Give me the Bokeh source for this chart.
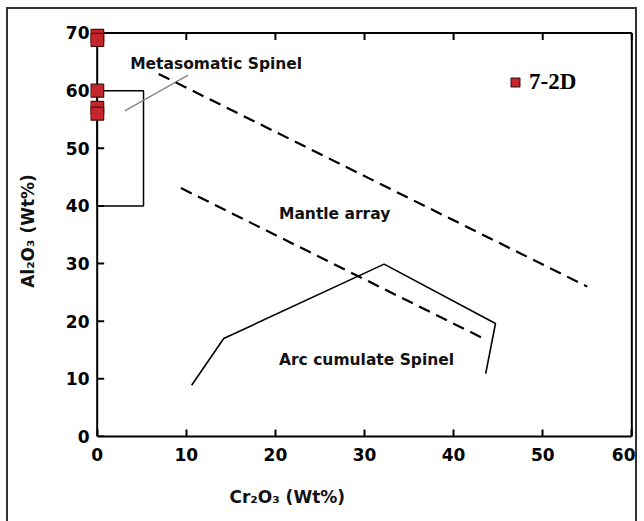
import math
from bokeh.plotting import figure
from bokeh.models import Range1d, FixedTicker, Legend, LegendItem, Label, Title
from bokeh.embed import file_html
from bokeh.resources import INLINE

# Sample 7-2D spinel analyses
sample_cr2o3 = [0.0, 0.0, 0.0, 0.0, 0.0]
sample_al2o3 = [69.5, 68.8, 60.0, 57.0, 56.0]

# Metasomatic spinel field (rectangle)
meta_x = [0.0, 5.2, 5.2, 0.0, 0.0]
meta_y = [60.0, 60.0, 40.0, 40.0, 60.0]

# Pointer line to the metasomatic label
pointer_x = [3.1, 10.2]
pointer_y = [56.5, 62.7]

# Mantle array boundaries (dashed)
mantle_upper_x = [6.9, 55.0]
mantle_upper_y = [62.9, 26.0]
mantle_lower_x = [9.4, 43.1]
mantle_lower_y = [43.1, 17.2]

# Arc cumulate spinel field (solid polyline)
arc_x = [10.6, 14.2, 32.2, 44.7, 43.6]
arc_y = [8.9, 17.0, 29.9, 19.6, 10.9]

x_ticks = [0, 10, 20, 30, 40, 50, 60]
y_ticks = [0, 10, 20, 30, 40, 50, 60, 70]
X_MAX, Y_MAX = 60, 70

FONT = "DejaVu Sans"

p = figure(width=631, height=518, output_backend="svg", toolbar_location=None,
           x_range=Range1d(-0.75, 60.3), y_range=Range1d(0, 71.3),
           min_border_left=82, min_border_right=5, min_border_top=16, min_border_bottom=91,
           y_axis_label="Al\u2082O\u2083 (Wt%)")
p.margin = (7, 0, 0, 6)
p.styles = {"border": "2px solid #333333"}
p.grid.visible = False
p.outline_line_color = None
p.background_fill_color = "white"
p.border_fill_color = "white"

for ax in (p.xaxis[0], p.yaxis[0]):
    ax.major_tick_in = 7
    ax.major_tick_out = 0
    ax.minor_tick_line_color = None
    ax.axis_line_width = 2
    ax.major_tick_line_width = 2
    ax.major_label_text_font = FONT
    ax.major_label_text_font_style = "bold"
    ax.major_label_text_font_size = "17px"
    ax.major_label_text_color = "black"
    ax.axis_label_text_font = FONT
    ax.axis_label_text_font_style = "bold"
    ax.axis_label_text_font_size = "17px"
    ax.axis_label_text_color = "#111111"
p.xaxis[0].ticker = FixedTicker(ticks=x_ticks)
p.yaxis[0].ticker = FixedTicker(ticks=y_ticks)
p.xaxis[0].bounds = (0, X_MAX)
p.xaxis[0].major_label_standoff = 11
# the y axis line and ticks are drawn at x = 0 below; the panel axis only carries labels
p.yaxis[0].axis_line_color = None
p.yaxis[0].major_tick_line_color = None
p.yaxis[0].major_label_standoff = 1
p.yaxis[0].axis_label_standoff = 25

# x-axis title (sits left of centre in the reference)
p.add_layout(Title(text="Cr\u2082O\u2083 (Wt%)", align="left", offset=139, standoff=42,
                   text_font=FONT, text_font_style="bold", text_font_size="17px",
                   text_color="#111111"), "below")

# plot box edges at x = 0, y = 70 and x = 60, with inward ticks
p.line([0, 0], [0, Y_MAX], line_color="black", line_width=2)
p.line([0, X_MAX], [Y_MAX, Y_MAX], line_color="black", line_width=2)
p.line([X_MAX, X_MAX], [0, Y_MAX], line_color="black", line_width=2)
p.ray(x=x_ticks, y=[Y_MAX] * len(x_ticks), length=7, length_units="screen",
      angle=-math.pi / 2, line_color="black", line_width=2)
p.ray(x=[0] * len(y_ticks), y=y_ticks, length=7, length_units="screen",
      angle=0, line_color="black", line_width=2)

p.line(meta_x, meta_y, line_color="black", line_width=1.5)
p.line(pointer_x, pointer_y, line_color="#888888", line_width=1.5)
p.line(mantle_upper_x, mantle_upper_y, line_color="black", line_width=2.2, line_dash="12 7")
p.line(mantle_lower_x, mantle_lower_y, line_color="black", line_width=2.2, line_dash="12 7")
p.line(arc_x, arc_y, line_color="black", line_width=1.6)

pts = p.scatter(sample_cr2o3, sample_al2o3, marker="square", size=13,
                fill_color="#c4262b", line_color="#4a1010", line_width=1.2)

legend = Legend(items=[LegendItem(label="7-2D", renderers=[pts])], location=(414, 341),
                background_fill_alpha=0, border_line_alpha=0,
                label_text_font="Liberation Serif", label_text_font_style="bold",
                label_text_font_size="23px", label_text_color="black",
                glyph_width=22, glyph_height=22,
                label_standoff=3, padding=0, margin=0)
p.add_layout(legend, "center")

for txt, xx, yy in [("Metasomatic Spinel", 3.7, 64.6), ("Mantle array", 20.4, 38.6),
                    ("Arc cumulate Spinel", 20.4, 13.2)]:
    p.add_layout(Label(x=xx, y=yy, text=txt, text_font=FONT, text_font_style="bold",
                       text_font_size="15.5px", text_baseline="middle", text_color="#111111"))

open("out.html", "w").write(file_html(p, INLINE))
